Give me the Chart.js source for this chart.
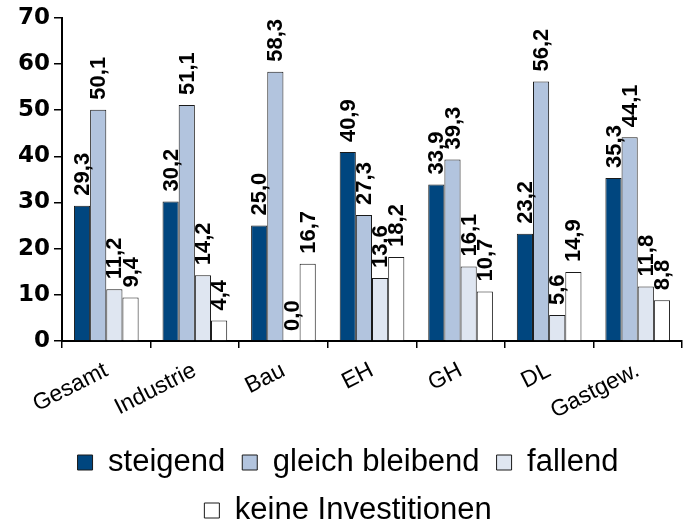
<!DOCTYPE html>
<html>
<head>
<meta charset="utf-8">
<script src="https://cdn.jsdelivr.net/npm/chart.js@4.4.1/dist/chart.umd.min.js"></script>
<style>
  html, body { margin: 0; padding: 0; background: #fff; overflow: hidden; }
  #wrap { width: 687px; height: 525px; overflow: hidden; }
</style>
</head>
<body>
<div id="wrap"><canvas id="chart" width="687" height="536"></canvas></div>
<script>
const categories = ['Gesamt', 'Industrie', 'Bau', 'EH', 'GH', 'DL', 'Gastgew.'];
const steigend = [29.3, 30.2, 25.0, 40.9, 33.9, 23.2, 35.3];
const gleichBleibend = [50.1, 51.1, 58.3, 27.3, 39.3, 56.2, 44.1];
const fallend = [11.2, 14.2, 0.0, 13.6, 16.1, 5.6, 11.8];
const keineInvestitionen = [9.4, 4.4, 16.7, 18.2, 10.7, 14.9, 8.8];

const FONT = '"Liberation Sans", Arial, sans-serif';

// draws the rotated value above each bar, with a comma as decimal mark
const valueLabels = {
  id: 'valueLabels',
  afterDatasetsDraw(chart) {
    const ctx = chart.ctx;
    ctx.save();
    ctx.font = 'bold 22px ' + FONT;
    ctx.fillStyle = '#000';
    ctx.textAlign = 'left';
    ctx.textBaseline = 'middle';
    chart.data.datasets.forEach((ds, i) => {
      chart.getDatasetMeta(i).data.forEach((bar, j) => {
        const text = ds.data[j].toFixed(1).replace('.', ',');
        ctx.save();
        ctx.translate(bar.x + 1, bar.y - 10);
        ctx.rotate(-Math.PI / 2);
        ctx.fillText(text, 0, 0);
        ctx.restore();
      });
    });
    ctx.restore();
  },
};

function makeSet(label, data, color) {
  return {
    label,
    data,
    backgroundColor: color,
    borderColor: '#1a1a1a',
    borderWidth: 1,
    borderSkipped: 'bottom',
    barPercentage: 1,
    categoryPercentage: 0.73,
  };
}

new Chart(document.getElementById('chart'), {
  type: 'bar',
  data: {
    labels: categories,
    datasets: [
      makeSet('steigend', steigend, '#00467F'),
      makeSet('gleich bleibend', gleichBleibend, '#B2C4DE'),
      makeSet('fallend', fallend, '#DFE6F1'),
      makeSet('keine Investitionen', keineInvestitionen, '#FFFFFF'),
    ],
  },
  options: {
    responsive: false,
    animation: false,
    devicePixelRatio: 1,
    layout: { padding: { top: 15, right: 5, left: 14, bottom: 0 } },
    scales: {
      x: {
        grid: { drawOnChartArea: false, color: '#000', tickLength: 7, lineWidth: 1.5 },
        border: { color: '#000', width: 2 },
        ticks: {
          color: '#000',
          font: { family: FONT, size: 23 },
          maxRotation: 27,
          minRotation: 27,
          padding: 9,
        },
        // the longest label reserves more room than the picture leaves
        afterFit(scale) {
          scale.height -= 4;
        },
      },
      y: {
        min: 0,
        max: 70,
        grid: { drawOnChartArea: false, color: '#000', tickLength: 8, lineWidth: 1.5 },
        border: { color: '#000', width: 2 },
        ticks: {
          stepSize: 10,
          color: '#000',
          padding: 4,
          font: { family: '"DejaVu Sans", sans-serif', size: 23, weight: 'bold' },
        },
      },
    },
    plugins: {
      tooltip: { enabled: false },
      legend: {
        position: 'bottom',
        labels: {
          color: '#000',
          font: { family: FONT, size: 31 },
          boxWidth: 15,
          boxHeight: 15,
          padding: 17,
        },
      },
    },
  },
  plugins: [valueLabels],
});
</script>
</body>
</html>
